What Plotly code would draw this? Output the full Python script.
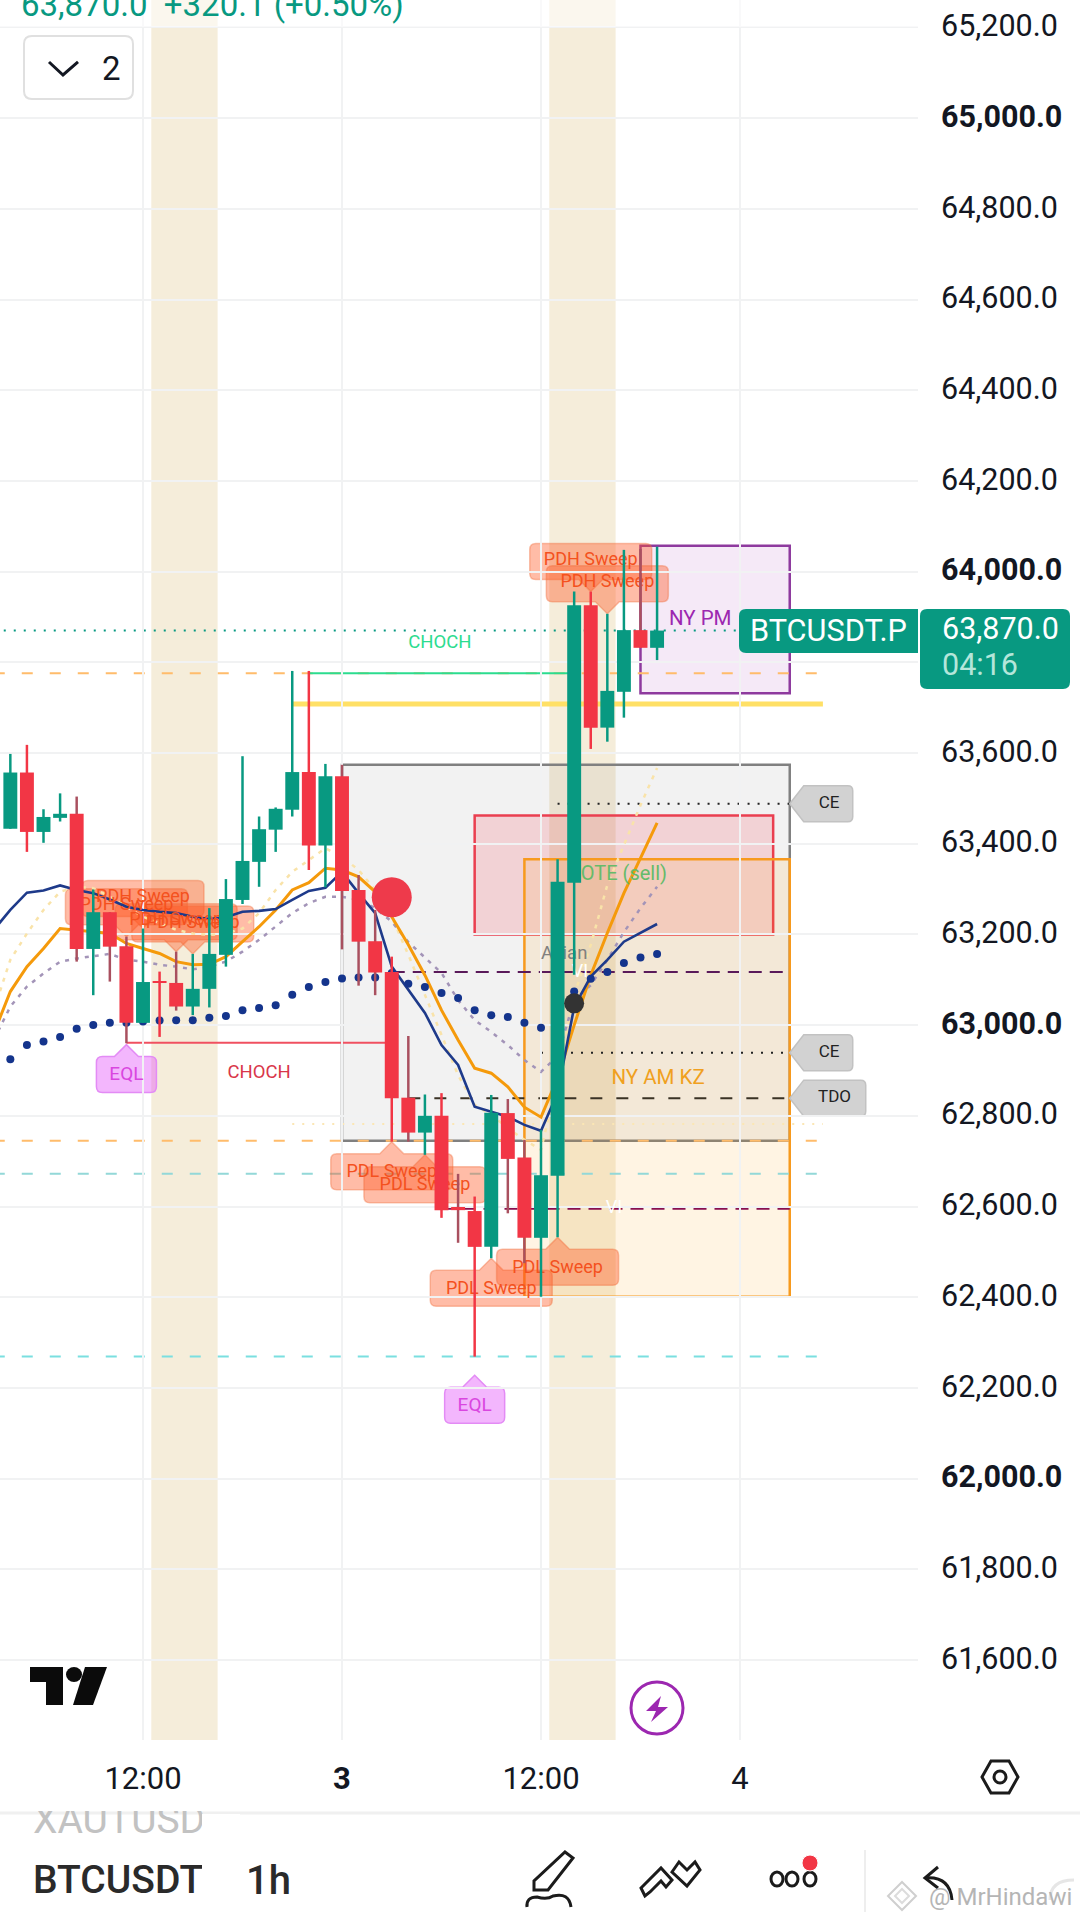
"""
    BTCUSDT.P 1h chart with session boxes, sweep labels and moving averages
"""
import plotly.graph_objects as go

W, H = 1080, 1921
PLOT_RIGHT, PLOT_BOTTOM = 918, 1740
FONT = "Roboto"
UP, DOWN = "#089981", "#f23645"
MUTED = "#a9505f"

# Candles: hours relative to midnight of the 3rd
hours = list(range(-20, 20))
opens = [63433, 63557, 63426, 63457, 63466, 63168, 63249, 63174, 63005, 63097,
         63093, 63041, 63080, 63155, 63276, 63360, 63431, 63475, 63558, 63396,
         63549, 63298, 63185, 63117, 62840, 62763, 62800, 62599, 62590, 62511,
         62806, 62708, 62531, 62668, 63314, 63926, 63656, 63735, 63871, 63832]
closes = [63557, 63426, 63459, 63466, 63168, 63249, 63173, 63005, 63095, 63093,
          63041, 63080, 63157, 63278, 63362, 63432, 63477, 63558, 63396, 63549,
          63296, 63184, 63116, 62839, 62763, 62800, 62592, 62592, 62511, 62807,
          62705, 62531, 62669, 63316, 63926, 63656, 63737, 63871, 63832, 63870]
highs = [63598, 63618, 63476, 63511, 63504, 63299, 63249, 63195, 63213, 63118,
         63162, 63157, 63258, 63322, 63593, 63460, 63480, 63781, 63781, 63576,
         63574, 63331, 63254, 63151, 62976, 62847, 62850, 62672, 62622, 62846,
         62837, 62747, 62769, 63366, 63956, 63956, 63907, 64048, 64050, 64055]
lows = [63433, 63382, 63402, 63449, 63140, 63066, 63096, 62960, 63005, 62974,
        63032, 63022, 63039, 63129, 63267, 63305, 63382, 63460, 63342, 63304,
        63167, 63087, 63066, 62743, 62743, 62714, 62575, 62520, 62269, 62486,
        62585, 62475, 62401, 62532, 63111, 63609, 63625, 63678, 63832, 63805]
muted_wicks = [-16, -14, -13, -10, 0, 1, 2, 4, 7, 10, 11, 18]

# Moving averages, one point per hour starting one bar left of the first candle
ma_hours = list(range(-21, 20))
navy_ma = [63210, 63254, 63292, 63297, 63308, 63298, 63291, 63277, 63261, 63254, 63250,
           63247, 63239, 63234, 63238, 63250, 63252, 63256, 63276, 63296, 63303, 63338,
           63291, 63247, 63129, 63077, 63027, 62956, 62912, 62820, 62809, 62798, 62780,
           62767, 62850, 63040, 63107, 63144, 63184, 63203, 63223]
orange_ma = [62982, 63074, 63129, 63169, 63213, 63210, 63206, 63202, 63180, 63169, 63158,
             63140, 63133, 63134, 63151, 63184, 63217, 63254, 63298, 63314, 63346, 63342,
             63327, 63294, 63239, 63177, 63110, 63033, 62967, 62905, 62894, 62864, 62819,
             62797, 62883, 63000, 63110, 63203, 63291, 63368, 63446]
purple_ma = [62967, 63041, 63085, 63114, 63140, 63147, 63152, 63157, 63144, 63140, 63133,
             63129, 63123, 63129, 63140, 63162, 63188, 63217, 63247, 63269, 63283, 63283,
             63277, 63258, 63228, 63183, 63150, 63115, 63055, 63011, 62985, 62956, 62923,
             62897, 62932, 63055, 63088, 63144, 63205, 63258, 63305]
yellow_ma = [63033, 63144, 63202, 63254, 63294, 63305, 63302, 63283, 63261, 63239, 63225,
             63210, 63202, 63199, 63202, 63213, 63247, 63298, 63338, 63364, 63390, 63371,
             63342, 63298, 63239, 63155, 63066, 62978, 62890, 62824, 62802, 62773, 62747,
             62725, 62879, 63066, 63177, 63309, 63397, 63485, 63567]
dots = [62925, 62956, 62964, 62974, 62992, 63000, 63005, 63005, 63008, 63010,
        63011, 63011, 63016, 63020, 63033, 63038, 63044, 63067, 63084, 63095,
        63103, 63105, 63105, 63115, 63091, 63084, 63071, 63060, 63033, 63022,
        63018, 63005, 62994, 63033, 63074, 63102, 63117, 63137, 63149, 63157]

# Axis ticks
price_ticks = list(range(61600, 65400, 200))
hour_ticks = [-12, 0, 12, 24]
hour_labels = ["12:00", "<b>3</b>", "12:00", "4"]

# Callout labels: hour of the candle they point at
pdh_hours = [-12, -13, -10, -9, 15, 16]
pdl_hours = [3, 5, 9, 13]
eql_hours = [-13, 8]
eql_tips = [62957, 62228]

# Session and zone boxes: h0, h1, top, bottom, fill, border
boxes = [
    (0, 27, 63574, 62745, "rgba(128,128,128,0.1)", "#808080"),
    (8, 26, 63462, 63200, "rgba(242,54,69,0.17)", "#ea3f50"),
    (11, 27, 63366, 62401, "rgba(255,152,0,0.11)", "#f79a1e"),
    (18, 27, 64057, 63732, "rgba(156,39,176,0.1)", "#8e3a9e"),
]
session_bands = [(-11.5, -7.5), (12.5, 16.5)]

# Horizontal levels: price, h0, h1, colour, width, dash
levels = [
    (63870, -21, 35, UP, 2, "2px,8px"),
    (63776, -21, 29, "#ffbc6b", 2, "11px,17px"),
    (63776, -2, 14, "#2bdc8f", 2, "solid"),
    (63708, -3, 29, "#ffe066", 5, "solid"),
    (62961, -13, 3, "#f05060", 2, "solid"),
    (62782, -3, 29, "#fbe6b4", 2, "2px,8px"),
    (62745, -21, 29, "#ffbc6b", 2, "11px,17px"),
    (62672, -21, 29, "#93d8d8", 2, "11px,17px"),
    (62269, -21, 29, "#7adfe0", 2, "11px,17px"),
    (63488, 13, 27, "#222222", 2, "2px,8px"),
    (62939, 12, 27, "#222222", 2, "2px,8px"),
    (62839, 4, 27, "#3a3225", 2, "12px,14px"),
    (63117, 3, 27, "#5a1a5a", 2, "13px,8px"),
    (62595, 6, 27, "#880e4f", 2, "13px,8px"),
]

# Tags right of the boxes: text, price, width, text hour
tag_texts = ["CE", "CE", "TDO"]
tag_prices = [63488, 62939, 62839]
tag_widths = [63, 63, 76]
tag_text_hours = [29.37, 29.37, 29.7]

# Free chart texts
chart_texts = ["NY PM", "OTE (sell)", "NY AM KZ", "Asian", "CHOCH", "CHOCH", "VI", "VI"]
chart_text_hours = [21.6, 17, 19.06, 13.4, 5.9, -5, 14.35, 16.4]
chart_text_prices = [63893, 63331, 62881, 63155, 63842, 62893, 63117, 62595]
chart_text_colors = ["#9c27b0", "#66bb6a", "#f0a020", "#808080", "#2bdc8f", "#d9364a",
                     "#ffffff", "#ffffff"]
chart_text_sizes = [20.5, 20, 20.5, 18.5, 18.5, 18.5, 18, 18]


def px(x):
    return x / W


def py(y):
    return 1 - y / H


def poly(points, close=True):
    """Path string in paper coords from page pixels"""
    s = "M " + " L ".join(f"{px(x):.5f},{py(y):.5f}" for x, y in points)
    return s + " Z" if close else s


def rounded(x0, y0, x1, y1, r, left=True, right=True):
    """Rounded rect path in paper coords from page pixels"""
    rl = r if left else 0
    rr = r if right else 0
    p = lambda x, y: f"{px(x):.5f},{py(y):.5f}"
    return (f"M {p(x0 + rl, y0)} L {p(x1 - rr, y0)} Q {p(x1, y0)} {p(x1, y0 + rr)} "
            f"L {p(x1, y1 - rr)} Q {p(x1, y1)} {p(x1 - rr, y1)} L {p(x0 + rl, y1)} "
            f"Q {p(x0, y1)} {p(x0, y1 - rl)} L {p(x0, y0 + rl)} Q {p(x0, y0)} {p(x0 + rl, y0)} Z")


def chrome(path, fill="rgba(0,0,0,0)", color="rgba(0,0,0,0)", width=0):
    return dict(type="path", xref="paper", yref="paper", path=path, fillcolor=fill,
                line=dict(color=color, width=width), layer="above")


def ring(x0, y0, x1, y1, color="#1b1b1b", width=3, fill="rgba(0,0,0,0)"):
    return dict(type="circle", xref="paper", yref="paper", x0=px(x0), x1=px(x1), y0=py(y0), y1=py(y1),
                fillcolor=fill, line=dict(color=color, width=width), layer="above")


def callout(hour, tip, up, fill, border, w=122, h=36):
    """Rounded label with a tip, drawn in pixels from the candle it points at"""
    s = -1 if up else 1  # pixel y grows upward from the anchor
    a, b, r = 12 * s, (12 + h) * s, 6 * s
    hw, q = w / 2, abs(r)
    path = (f"M 0,0 L 12,{a} L {hw - q},{a} Q {hw},{a} {hw},{a + r} L {hw},{b - r} "
            f"Q {hw},{b} {hw - q},{b} L {-hw + q},{b} Q {-hw},{b} {-hw},{b - r} "
            f"L {-hw},{a + r} Q {-hw},{a} {-hw + q},{a} L -12,{a} Z")
    return dict(type="path", xref="x", yref="y", xsizemode="pixel", ysizemode="pixel",
                xanchor=hour, yanchor=tip, path=path, fillcolor=fill, layer="below",
                line=dict(color=border, width=1.5))


def tag(price, width, h=36):
    """Gray tag whose tip touches the right edge of the gray box"""
    hh, q = h / 2, 5
    path = (f"M 0,0 L 14,{hh} L {width - q},{hh} Q {width},{hh} {width},{hh - q} "
            f"L {width},{-hh + q} Q {width},{-hh} {width - q},{-hh} L 14,{-hh} Z")
    return dict(type="path", xref="x", yref="y", xsizemode="pixel", ysizemode="pixel",
                xanchor=27, yanchor=price, path=path, fillcolor="#d2d2d2", layer="below",
                line=dict(color="#c2c2c2", width=1.5))


def text(x, y, s, size, color="#131722", anchor="left", weight=400):
    return dict(xref="paper", yref="paper", x=px(x), y=py(y), text=s, showarrow=False,
                xanchor=anchor, yanchor="middle",
                font=dict(family=FONT, size=size, color=color, weight=weight))


def mask(x0, y0, x1, y1):
    return dict(xref="paper", yref="paper", x=px(x0), y=py(y0), text=" ", showarrow=False,
                xanchor="left", yanchor="top", width=x1 - x0, height=y1 - y0,
                bgcolor="#ffffff", borderpad=0, borderwidth=0)


# Scale of the two axes: plot area covers pixel 0..918 and 0..1740
x_range = [-342 / 16.583, (PLOT_RIGHT - 342) / 16.583]
y_range = [61423.6, 65260.5]

fig = go.Figure()

# Moving averages and dots stay under the candles (first subplot)
fig.add_trace(go.Scatter(x=ma_hours, y=yellow_ma, mode="lines",
                         line=dict(color="#f9e3a9", width=2.5, dash="4px,6px")))
fig.add_trace(go.Scatter(x=ma_hours, y=purple_ma, mode="lines",
                         line=dict(color="#a394b8", width=2.5, dash="4px,6px")))
fig.add_trace(go.Scatter(x=ma_hours, y=orange_ma, mode="lines",
                         line=dict(color="#f59a0b", width=3)))
fig.add_trace(go.Scatter(x=ma_hours, y=navy_ma, mode="lines",
                         line=dict(color="#1e3a8a", width=2.6)))
fig.add_trace(go.Scatter(x=hours, y=dots, mode="markers",
                         marker=dict(color="#14348c", size=8)))

# Label texts
high_of = dict(zip(hours, highs))
low_of = dict(zip(hours, lows))
fig.add_trace(go.Scatter(
    x=pdh_hours + pdl_hours,
    y=[high_of[h] + 68 for h in pdh_hours] + [low_of[h] - 68 for h in pdl_hours],
    text=["PDH Sweep"] * len(pdh_hours) + ["PDL Sweep"] * len(pdl_hours),
    mode="text", textfont=dict(family=FONT, size=18, color="#f4511e")))
fig.add_trace(go.Scatter(
    x=eql_hours, y=[p - 68 for p in eql_tips], text=["EQL"] * len(eql_hours),
    mode="text", textfont=dict(family=FONT, size=19, color="#d946e0")))
fig.add_trace(go.Scatter(
    x=chart_text_hours, y=chart_text_prices, text=chart_texts, mode="text",
    textfont=dict(family=FONT, size=chart_text_sizes, color=chart_text_colors)))
fig.add_trace(go.Scatter(
    x=tag_text_hours, y=tag_prices, text=tag_texts, mode="text",
    textfont=dict(family=FONT, size=17, color="#222222")))

# Candles on the overlay subplot, so they cover lines and labels
body_colors = [UP if c >= o else DOWN for o, c in zip(opens, closes)]
wick_colors = [MUTED if h in muted_wicks else col for h, col in zip(hours, body_colors)]
fig.add_trace(go.Bar(x=hours, y=[hi - lo for hi, lo in zip(highs, lows)], base=lows,
                     width=0.15, marker=dict(color=wick_colors, line_width=0),
                     xaxis="x2", yaxis="y2"))
fig.add_trace(go.Bar(x=hours, y=[abs(c - o) for o, c in zip(opens, closes)],
                     base=[min(o, c) for o, c in zip(opens, closes)],
                     width=0.84, marker=dict(color=body_colors, line_width=0),
                     xaxis="x2", yaxis="y2"))
fig.add_trace(go.Scatter(x=[3], y=[63282], mode="markers", xaxis="x2", yaxis="y2",
                         marker=dict(color="#ee3a4b", size=40)))
fig.add_trace(go.Scatter(x=[14], y=[63048], mode="markers", xaxis="x2", yaxis="y2",
                         marker=dict(color="#333333", size=20)))

shapes = []
for h0, h1 in session_bands:
    shapes.append(dict(type="rect", xref="x", yref="paper", x0=h0, x1=h1, y0=py(PLOT_BOTTOM), y1=1,
                       fillcolor="#f5edda", line_width=0, layer="below"))
for h0, h1, top, bottom, fill, border in boxes:
    shapes.append(dict(type="rect", xref="x", yref="y", x0=h0, x1=h1, y0=bottom, y1=top,
                       fillcolor=fill, line=dict(color=border, width=2.5), layer="below"))
for price, h0, h1, color, width, dash in levels:
    shapes.append(dict(type="line", xref="x", yref="y", x0=h0, x1=h1, y0=price, y1=price,
                       line=dict(color=color, width=width, dash=dash), layer="below"))
for h in pdh_hours:
    shapes.append(callout(h, high_of[h], False, "rgba(255,87,34,0.4)", "rgba(240,110,60,0.4)"))
for h in pdl_hours:
    shapes.append(callout(h, low_of[h], True, "rgba(255,87,34,0.4)", "rgba(240,110,60,0.4)"))
for h, tip in zip(eql_hours, eql_tips):
    shapes.append(callout(h, tip, True, "rgba(224,64,251,0.38)", "#e38bf5", w=60))
for price, width in zip(tag_prices, tag_widths):
    shapes.append(tag(price, width))

# Page chrome
shapes += [
    chrome(poly([(0, 0), (PLOT_RIGHT, 0), (PLOT_RIGHT, 27), (0, 27)]), fill="rgba(255,255,255,0.55)"),
    chrome(rounded(24, 36, 133, 99, 8), fill="#ffffff", color="#e0e0e0", width=2),
    chrome(poly([(49, 62), (63, 75), (78, 62)], close=False), color="#131722", width=3),
    chrome(rounded(739, 609, 918, 653, 7, right=False), fill=UP),
    chrome(rounded(920, 609, 1070, 689, 7), fill=UP),
    # logo
    chrome(poly([(30, 1667), (63, 1667), (63, 1705), (46, 1705), (46, 1682), (30, 1682)]), fill="#0b0b0b"),
    ring(66, 1667, 82, 1682, "#0b0b0b", 0, "#0b0b0b"),
    chrome(poly([(85, 1667), (107, 1667), (93, 1705), (73, 1705)]), fill="#0b0b0b"),
    # lightning
    ring(631, 1682, 683, 1734, "#9c27b0"),
    chrome(poly([(661, 1696), (646, 1711), (656, 1711), (651, 1722), (668, 1707), (658, 1707)]), fill="#9c27b0"),
    # settings hexagon
    chrome(poly([(982, 1777), (991, 1761), (1009, 1761), (1018, 1777), (1009, 1793), (991, 1793)]),
           color="#1b1b1b", width=3),
    ring(994, 1771, 1006, 1783),
    # separators
    chrome(poly([(0, 1813), (W, 1813)], close=False), color="#f0f0f0", width=3),
    chrome(poly([(865, 1850), (865, 1912)], close=False), color="#eeeeee", width=2),
    # pencil
    chrome(poly([(534, 1890), (534, 1881), (565, 1852), (573, 1858), (548, 1890)]), color="#1b1b1b", width=3),
    chrome(f"M {px(527)},{py(1907)} Q {px(526)},{py(1897)} {px(537)},{py(1897)} "
           f"Q {px(547)},{py(1900)} {px(553)},{py(1896)} Q {px(569)},{py(1892)} {px(571)},{py(1907)}",
           color="#1b1b1b", width=3),
    # drawing tools
    chrome(poly([(645, 1896), (641, 1888), (661, 1868), (672, 1880), (666, 1887), (661, 1881), (650, 1892)]),
           color="#1b1b1b", width=3),
    chrome(poly([(672, 1872), (679, 1862), (687, 1870), (695, 1862), (700, 1870), (687, 1886)]),
           color="#1b1b1b", width=3),
    # three circles and the red badge
    ring(771, 1872, 783, 1886),
    ring(786, 1872, 798, 1886),
    ring(804, 1872, 816, 1886),
    ring(802, 1855, 818, 1871, "#ffffff", 1, DOWN),
    # undo, redo and watermark diamond
    chrome(poly([(938, 1867), (925, 1878), (938, 1888)], close=False), color="#1b1b1b", width=3),
    chrome(f"M {px(925)},{py(1878)} Q {px(950)},{py(1876)} {px(952)},{py(1900)}", color="#1b1b1b", width=3),
    chrome(f"M {px(1050)},{py(1900)} Q {px(1050)},{py(1880)} {px(1074)},{py(1880)}", color="#e6e6e6", width=3),
    chrome(poly([(902, 1882), (916, 1896), (902, 1910), (888, 1896)]), color="#cfcfcf", width=2),
    chrome(poly([(902, 1889), (909, 1896), (902, 1903), (895, 1896)]), color="#dcdcdc", width=2),
]

annotations = [
    text(19, 4, "63,870.0&nbsp;&nbsp;+320.1 (+0.50%)", 33, UP),
    text(111, 68, "2", 33, anchor="center"),
    text(828, 630, "BTCUSDT.P", 30.7, "#ffffff", anchor="center"),
    text(940, 628, "63,870.0", 30.5, "#ffffff"),
    text(940, 664, "04:16", 30.5, "#b4e6da"),
    text(31, 1820, "XAUTUSD", 39, "#c2c2c2"),
    text(31, 1880, "BTCUSDT", 39, "#2a2a2a", weight=500),
    text(268, 1880, "1h", 40, "#2a2a2a", anchor="center", weight=500),
    text(1000, 1897, "@ MrHindawi", 24, "#b5b5b5", anchor="center"),
    mask(0, 1795, 260, 1811),
    mask(202, 1814, 240, 1900),
]

price_labels = []
for p in price_ticks:
    if p == 63800:  # hidden by the last price tag
        price_labels.append("")
    elif p % 1000 == 0:
        price_labels.append(f"<b>{p:,}.0</b>")
    else:
        price_labels.append(f"{p:,}.0")

fig.update_layout(
    width=W, height=H, margin=dict(l=0, r=0, t=0, b=0),
    paper_bgcolor="#ffffff", plot_bgcolor="#ffffff",
    showlegend=False, barmode="overlay", font=dict(family=FONT),
    shapes=shapes, annotations=annotations,
    xaxis=dict(domain=[0, px(PLOT_RIGHT)], range=x_range, tickvals=hour_ticks, ticktext=hour_labels,
               showgrid=True, gridcolor="#f1f2f3", gridwidth=2, zeroline=False, showline=False,
               ticks="", ticklabelstandoff=17, tickfont=dict(family=FONT, size=31, color="#131722")),
    yaxis=dict(domain=[1 - PLOT_BOTTOM / H, 1], range=y_range, side="right", tickvals=price_ticks,
               ticktext=price_labels, showgrid=True, gridcolor="#f1f2f3", gridwidth=2,
               zeroline=False, showline=False, ticks="", ticklabelstandoff=22, ticklabelshift=-2,
               tickfont=dict(family=FONT, size=30.5, color="#131722")),
    xaxis2=dict(overlaying="x", range=x_range, visible=False),
    yaxis2=dict(overlaying="y", range=y_range, visible=False),
)

# The page's default 8px body margin would push the whole chart off the pixel grid
fig.write_html("out.html", config=dict(displayModeBar=False),
               post_script="document.body.style.margin='0';")
